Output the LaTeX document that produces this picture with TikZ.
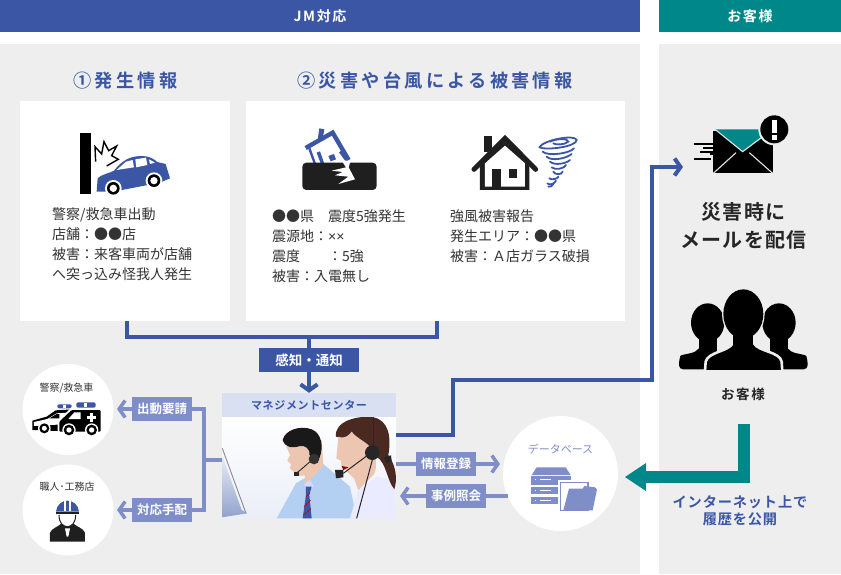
\documentclass[tikz,border=0pt]{standalone}
\usepackage{fontspec}
\usetikzlibrary{arrows.meta,calc,shapes.geometric}
\setmainfont{Noto Sans CJK JP}
\newfontfamily\headfont[LetterSpace=18]{Noto Sans CJK JP Bold}
\newfontfamily\boldfont{Noto Sans CJK JP Bold}
\newfontfamily\boldsp[LetterSpace=6]{Noto Sans CJK JP Bold}
\newfontfamily\boldhd[LetterSpace=12]{Noto Sans CJK JP Bold}
\newfontfamily\latinf{Liberation Sans}
\definecolor{jmblue}{HTML}{3A56A5}
\definecolor{jmteal}{HTML}{00878A}
\definecolor{lav}{HTML}{7F8EC8}
\definecolor{panel}{HTML}{EEEEEE}
\definecolor{lightbar}{HTML}{D9E0F2}
\definecolor{bodytext}{HTML}{333333}
\definecolor{skin}{HTML}{EDC6B2}
\definecolor{hairb}{HTML}{4A2A20}
\definecolor{shirt}{HTML}{B3D0F2}
\tikzset{
 hdr/.style={fill=#1,text=white,inner sep=0,font=\boldhd\fontsize{14}{15}\selectfont,minimum height=32pt},
 whitebox/.style={fill=white,inner sep=0,anchor=north west},
 body/.style={align=left,anchor=north west,inner sep=0,text=bodytext,font=\fontsize{14}{20}\selectfont},
 headtxt/.style={text=jmblue,inner sep=0,font=\headfont\fontsize{18.2}{20}\selectfont},
 darktag/.style={fill=jmblue,text=white,inner sep=0,minimum width=100pt,minimum height=24pt,font=\boldfont\fontsize{13.5}{15}\selectfont},
 lavtag/.style={fill=lav,text=white,inner sep=0,minimum width=60pt,minimum height=24pt,font=\boldfont\fontsize{12.5}{15}\selectfont},
 circ/.style={circle,fill=white,inner sep=0,minimum size=#1},
 darkline/.style={draw=jmblue,line width=4pt},
 lavline/.style={draw=lav,line width=3.5pt},
 darkarrow/.style={darkline,-{Straight Barb[length=6pt,width=17pt,line width=4pt]}},
 lavarrow/.style={lavline,-{Straight Barb[length=6pt,width=17pt,line width=3.5pt]}},
 small/.style={inner sep=0,text=bodytext,font=\fontsize{10}{12}\selectfont},
 icon/.style={shift={(#1)},scale=0.3333}
}
\begin{document}
\begin{tikzpicture}[x=1pt,y=-1pt]
\useasboundingbox (0,0) rectangle (841,574);
\fill[white] (0,0) rectangle (841,574);
\fill[panel] (0,44) rectangle (640,574);
\fill[panel] (659,44) rectangle (841,574);
\node[hdr=jmblue,minimum width=640pt] (hjm) at (320,16) {JM対応};
\node[hdr=jmteal,minimum width=182pt] (hcu) at (750,16) {お客様};
\node[headtxt] (h1) at (125.5,81) {①発生情報};
\node[headtxt] (h2) at (435,81) {②災害や台風による被害情報};
\node[whitebox,minimum width=210pt,minimum height=220pt] (boxA) at (20,101) {};
\node[whitebox,minimum width=379pt,minimum height=220pt] (boxB) at (246,101) {};
\node[body] (tA) at (52,207.5) {警察/救急車出動\\店舗：●●店\\被害：来客車両が店舗\\へ突っ込み怪我人発生};
\node[body] (tB) at (272,209.5) {●●県　震度5強発生\\震源地：{\latinf ××}\\震度　　：5強\\被害：入電無し};
\node[body] (tC) at (450,209.5) {強風被害報告\\発生エリア：●●県\\被害：Ａ店ガラス破損};
% car icon
\fill[black] (80,133) rectangle (91,194);
\begin{scope}[icon={0,60}]
\draw[black,line width=1.4pt,line join=miter] (287,305) -- (285,260) -- (305,282) -- (312,245) -- (326,272) -- (350,258) -- (335,287) -- (355,298) -- (320,318);
\fill[jmblue] (290,395) -- (293,355) .. controls (310,340) and (330,340) .. (342,332) .. controls (360,310) and (375,298) .. (395,292) .. controls (430,283) and (455,290) .. (472,306) -- (497,312) -- (510,355) -- (480,368) -- (340,395) -- cycle;
\fill[white] (350,330) -- (378,305) -- (398,300) -- (402,322) -- cycle;
\fill[white] (406,298) -- (438,293) -- (442,315) -- (409,322) -- cycle;
\fill[white] (447,298) -- (465,308) -- (450,312) -- cycle;
\foreach \cx/\cy in {340/385,462/362}{
 \fill[white] (\cx,\cy) circle[radius=25];
 \fill[black] (\cx,\cy) circle[radius=19];
 \fill[white] (\cx,\cy) circle[radius=11];}
\end{scope}
% earthquake icon
\begin{scope}[icon={260,110}]
\draw[jmblue,line width=2.4pt] (148,115) -- (165,162);
\draw[jmblue,line width=2.4pt] (240,125) -- (262,155);
\fill[jmblue] (170,128) -- (180,124) -- (192,158) -- (182,160) -- cycle;
\fill[jmblue] (205,138) -- (222,132) -- (228,148) -- (212,154) -- cycle;
\draw[jmblue,line width=4.4pt,line join=miter] (137,114) -- (218,68) -- (266,150);
\fill[jmblue] (178,55) -- (193,58) -- (187,92) -- (173,90) -- cycle;
\fill[black!88,rounded corners=4pt] (127,158) rectangle (350,240);
\fill[white] (245,152) -- (272,152) -- (266,172) -- (285,208) -- (235,222) -- (265,200) -- (225,196) -- (248,186) -- (215,182) -- (258,172) -- cycle;
\end{scope}
% wind house icon
\begin{scope}[icon={260,110}]
\fill[black!88] (673,77) rectangle (697,125);
\fill[black!88] (660,240) -- (660,165) -- (735,95) -- (808,165) -- (808,240) -- cycle;
\fill[white] (675,230) -- (675,160) -- (735,107) -- (795,160) -- (795,230) -- cycle;
\draw[black!88,line width=5pt,line cap=round,line join=miter] (642,178) -- (735,85) -- (827,178);
\fill[black!88] (697,178) rectangle (722,232);
\fill[black!88] (747,177) rectangle (772,203);
\draw[jmblue,line width=1.8pt,line cap=round] (838,112) .. controls (850,90) and (945,72) .. (950,90) .. controls (950,110) and (860,122) .. (838,112);
\draw[jmblue,line width=1.8pt,line cap=round] (870,95) .. controls (890,85) and (925,85) .. (925,95) .. controls (915,105) and (885,105) .. (880,100);
\draw[jmblue,line width=1.8pt,line cap=round] (848,125) .. controls (865,140) and (930,130) .. (942,115);
\draw[jmblue,line width=1.8pt,line cap=round] (860,140) .. controls (875,155) and (920,145) .. (935,132);
\draw[jmblue,line width=1.8pt,line cap=round] (870,155) .. controls (885,168) and (920,160) .. (930,150);
\draw[jmblue,line width=1.8pt,line cap=round] (875,172) .. controls (885,182) and (915,175) .. (918,165);
\draw[jmblue,line width=1.8pt,line cap=round] (880,185) .. controls (885,195) and (905,195) .. (908,185);
\draw[jmblue,line width=1.8pt,line cap=round] (868,205) .. controls (875,212) and (895,205) .. (895,200);
\draw[jmblue,line width=1.8pt,line cap=round] (862,220) .. controls (870,228) and (885,220) .. (888,212);
\draw[jmblue,line width=1.8pt,line cap=round] (865,230) .. controls (870,232) and (878,228) .. (880,222);
\end{scope}
% top connector
\coordinate (jA) at (127,337);
\coordinate (jB) at (437,337);
\node[darktag] (kanchi) at (309,360) {感知・通知};
\node[fill=lightbar,inner sep=0,minimum width=174pt,minimum height=24pt,text=jmblue,font=\boldsp\fontsize{11}{12}\selectfont] (mgmt) at (309,405) {マネジメントセンター};
\node[inner sep=0,minimum width=174pt,minimum height=101pt] (photo) at (309,467.5) {};
\draw[darkline,line join=miter] (boxA.south -| jA) -- (jA) -- (jB) -- (boxB.south -| jB);
\draw[darkline] (kanchi.north |- jA) -- (kanchi.north);
\draw[darkarrow] (kanchi.south) -- (mgmt.north);
% photo
\begin{scope}
\clip (222,417) rectangle (396,518);
\shade[top color=white,bottom color=lightbar!55] (222,417) rectangle (396,518);
\begin{scope}[icon={210,340}]
\shade[top color=lightbar!60,bottom color=jmblue!55] (36,345) -- (95,510) -- (112,520) -- (36,532) -- cycle;
\draw[black!45,line width=0.9pt] (37,325) -- (108,520);
% man
\fill[shirt] (200,535) -- (258,430) -- (300,405) -- (340,372) -- (420,440) -- (440,535) -- cycle;
\fill[skin] (228,318) -- (240,345) -- (232,362) -- (243,372) -- (240,385) -- (250,395) .. controls (255,405) and (265,410) .. (285,406) -- (285,435) -- (340,378) -- (335,300) -- cycle;
\fill[white!85!blue] (282,432) -- (300,420) -- (312,440) -- (296,445) -- cycle;
\fill[jmblue] (288,440) -- (305,440) -- (298,465) -- (305,535) -- (278,535) -- (288,465) -- cycle;
\draw[red!70!black,line width=0.5pt] (282,500) -- (302,480) (280,525) -- (303,505) (288,470) -- (300,458);
\fill[black!90] (218,300) .. controls (225,270) and (270,255) .. (305,268) .. controls (335,280) and (342,320) .. (328,355) -- (312,350) -- (298,345) .. controls (302,325) and (282,315) .. (270,318) .. controls (245,326) and (225,322) .. (218,300) -- cycle;
\fill[black!80] (312,357) circle[radius=16];
\draw[black!85,line width=0.9pt] (300,365) .. controls (285,378) and (275,388) .. (258,400);
\fill[black!85] (252,395) rectangle (268,408);
% woman
\fill[white!92!blue] (420,535) -- (445,450) -- (500,410) -- (555,420) -- (558,535) -- cycle;
\fill[hairb] (378,290) .. controls (372,245) and (440,225) .. (490,232) .. controls (535,240) and (545,290) .. (535,345) .. controls (560,380) and (562,420) .. (553,448) .. controls (530,420) and (530,370) .. (500,350) -- (420,300) -- cycle;
\fill[skin] (385,290) .. controls (405,298) and (418,285) .. (425,275) .. controls (440,295) and (460,300) .. (480,320) .. controls (505,350) and (500,395) .. (490,405) -- (445,450) -- (432,415) -- (405,390) -- (395,380) -- (393,362) -- (379,355) -- cycle;
\fill[red!55!black] (395,378) -- (415,382) -- (400,390) -- cycle;
\fill[black!85] (487,338) circle[radius=22];
\draw[black!85,line width=1pt] (492,232) -- (492,320);
\draw[black!85,line width=1pt] (487,360) -- (440,535);
\draw[black!85,line width=1pt] (470,348) -- (400,400);
\fill[black!85] (375,390) -- (400,390) -- (400,412) -- (378,415) -- cycle;
\fill[black!85] (522,352) -- (543,346) -- (545,362) -- (530,370) -- cycle;
\end{scope}
\end{scope}
% left side
\node[circ=91pt] (police) at (68,409.5) {};
\node[circ=91pt] (worker) at (68,510) {};
\node[small] (tPol) at (66.5,388) {警察/救急車};
\node[small] (tWrk) at (67,487) {職人･工務店};
\begin{scope}[icon={10,350}]
\fill[jmblue,rounded corners=1.5pt] (142,163) rectangle (185,175);
\fill[white] (160,165) rectangle (168,173);
\fill[black] (67,240) -- (67,212) -- (110,200) -- (137,181) -- (190,178) -- (190,245) -- cycle;
\fill[white] (72,216) -- (112,207) -- (140,190) -- (175,188) -- (175,222) -- (72,228) -- cycle;
\fill[black] (118,205) -- (140,192) -- (148,192) -- (148,205) -- cycle;
\fill[white] (150,192) -- (172,192) -- (172,204) -- (150,204) -- cycle;
\fill[white] (103,235) circle[radius=19];\fill[black] (103,235) circle[radius=15];\fill[white] (103,235) circle[radius=7.5];
\fill[jmblue,rounded corners=1.5pt] (199,157) rectangle (257,173);
\fill[white] (223,160) rectangle (232,170);
\fill[white] (143,250) -- (143,212) -- (183,174) -- (276,174) -- (276,250) -- cycle;
\fill[black,rounded corners=1pt] (148,245) -- (148,215) -- (185,180) -- (272,180) -- (272,245) -- cycle;
\fill[white] (175,207) -- (193,187) -- (212,187) -- (212,207) -- cycle;
\fill[white] (240,190) rectangle (250,216);
\fill[white] (232,198) rectangle (258,208);
\foreach \cx in {177,245}{
\fill[white] (\cx,240) circle[radius=20];\fill[black] (\cx,240) circle[radius=16];\fill[white] (\cx,240) circle[radius=8];}
% worker
\fill[black!88] (120,575) -- (120,548) .. controls (125,535) and (145,530) .. (152,522) -- (192,522) .. controls (200,530) and (220,535) .. (225,548) -- (225,575) -- cycle;
\fill[white] (146,495) .. controls (146,540) and (198,540) .. (198,495) -- cycle;
\draw[black!88,line width=1pt] (147,495) .. controls (147,542) and (197,542) .. (197,495);
\fill[white] (165,535) -- (180,535) -- (175,560) -- (170,560) -- cycle;
\fill[jmblue] (138,485) .. controls (140,465) and (155,452) .. (172,452) .. controls (190,452) and (205,465) .. (207,485) -- cycle;
\fill[white] (163,452) -- (168,452) -- (168,482) -- (163,482) -- cycle;
\fill[white] (177,452) -- (182,452) -- (182,482) -- (177,482) -- cycle;
\fill[black!88] (138,486) rectangle (207,491);
\end{scope}
\node[lavtag] (req) at (162,409) {出動要請};
\node[lavtag] (arr) at (162,510) {対応手配};
\coordinate (tipP) at (117,409);
\coordinate (tipW) at (117,510);
\coordinate (sw1) at (204,409);
\coordinate (sw2) at (204,510);
\coordinate (swm) at (204,460);
\draw[lavline,line join=miter] (req.east) -- (sw1) -- (sw2) -- (arr.east);
\draw[lavline] (swm) -- (photo.west |- swm);
\draw[lavarrow] (req.west) -- (tipP);
\draw[lavarrow] (arr.west) -- (tipW);
% database
\node[circ=115pt] (db) at (560.5,473.5) {};
\node[inner sep=0,text=lav,font=\fontsize{11}{12}\selectfont] (tDb) at (560.5,449.5) {データベース};
\begin{scope}[icon={400,400}]
\fill[lav] (395,225) -- (410,202) -- (497,202) -- (512,225) -- cycle;
\fill[lav] (393,228) rectangle (512,254);
\fill[lav] (393,260) rectangle (478,283);
\fill[lav] (393,290) rectangle (478,313);
\foreach \yy in {238,272,300}{\fill[white] (405,\yy-1) rectangle (408,\yy+2);\fill[white] (420,\yy-1) rectangle (452,\yy+2);}
\fill[white] (475,240) rectangle (570,336);
\fill[lav] (480,245) rectangle (566,334);
\fill[white] (484,249) rectangle (562,331);
\fill[lav] (490,331) -- (507,266) -- (548,266) -- (553,258) -- (585,262) -- (591,268) -- (578,331) -- cycle;
\end{scope}
\node[lavtag] (reg) at (446,464) {情報登録};
\node[lavtag] (ref) at (456,496) {事例照会};
\coordinate (tipDb) at (500,464);
\coordinate (tipPh) at (400,496);
\draw[lavline] (photo.east |- reg) -- (reg.west);
\draw[lavarrow] (reg.east) -- (tipDb);
\draw[lavline] (db.west |- ref) ++(5,0) -- (ref.east);
\draw[lavarrow] (ref.west) -- (tipPh);
% main blue route
\coordinate (r1) at (453,435);
\coordinate (r2) at (453,380);
\coordinate (r3) at (652,380);
\coordinate (r4) at (652,167);
\coordinate (mailtip) at (683,167);
\draw[darkarrow,line join=miter] (photo.east |- r1) -- (r1) -- (r2) -- (r3) -- (r4) -- (mailtip);
% right panel
\begin{scope}[icon={660,100}]
\fill[black] (160,92) rectangle (338,220);
\fill[jmteal] (165,88) -- (298,88) -- (305,115) -- (248,155) -- cycle;
\draw[white!90!black,line width=1.1pt] (165,88) -- (248,155) -- (305,112);
\draw[white!90!black,line width=1.1pt] (160,220) -- (228,158);
\draw[white!90!black,line width=1.1pt] (338,220) -- (268,158);
\fill[panel] (100,125) rectangle (159,185);
\draw[black,line width=2pt] (103,132) -- (160,132);
\draw[black,line width=2pt] (130,143) -- (177,143);
\draw[black,line width=2pt] (120,155) -- (160,155);
\draw[black,line width=2pt] (150,163) -- (192,163);
\draw[black,line width=2pt] (103,177) -- (152,177);
\fill[panel] (343,88) circle[radius=48];
\fill[black] (343,88) circle[radius=42];
\fill[white] (337,60) rectangle (351,100);
\fill[white] (337,105) rectangle (351,120);
\end{scope}
\node[inner sep=0,text=black!85,font=\boldsp\fontsize{20}{28}\selectfont,align=center] (tMail) at (743.5,226) {災害時に\\メールを配信};
\begin{scope}[icon={660,280}]
\foreach \cx/\sx in {143/-1,357/1}{
\fill[black] (\cx,128) ellipse[x radius=50,y radius=58];
\fill[black] (\cx-27,170) rectangle (\cx+27,215);
\fill[black,rounded corners=4pt] (\cx+\sx*86,268) -- (\cx+\sx*86,240) .. controls (\cx+\sx*80,222) and (\cx+\sx*40,222) .. (\cx+\sx*25,200) -- (\cx-\sx*25,200) -- (\cx-\sx*30,268) -- cycle;
}
\draw[panel,fill=black,line width=2.6pt] (250,102) ellipse[x radius=60,y radius=74];
\draw[panel,fill=black,line width=2.6pt] (135,275) -- (137,245) .. controls (145,215) and (205,215) .. (218,190) -- (218,150) -- (282,150) -- (282,190) .. controls (295,215) and (360,215) .. (365,245) -- (367,275);
\fill[black] (250,102) ellipse[x radius=60,y radius=74];
\fill[black] (220,140) rectangle (280,200);
\fill[panel] (56,269) rectangle (444,280);
\end{scope}
\node[inner sep=0,text=black!85,font=\boldhd\fontsize{13.5}{15}\selectfont] (tCu) at (743,394) {お客様};
% teal arrow
\coordinate (t1) at (744,424);
\coordinate (t2) at (744,477);
\coordinate (t3) at (646,477);
\coordinate (t4) at (625,477);
\draw[jmteal,line width=12pt,line join=miter] (t1) -- (t2) -- (t3);
\fill[jmteal] (t4) -- (646,463) -- (646,491) -- cycle;
\node[inner sep=0,text=jmblue,font=\boldsp\fontsize{14.2}{17}\selectfont,align=center] (tWeb) at (740,511) {インターネット上で\\履歴を公開};
\end{tikzpicture}
\end{document}
